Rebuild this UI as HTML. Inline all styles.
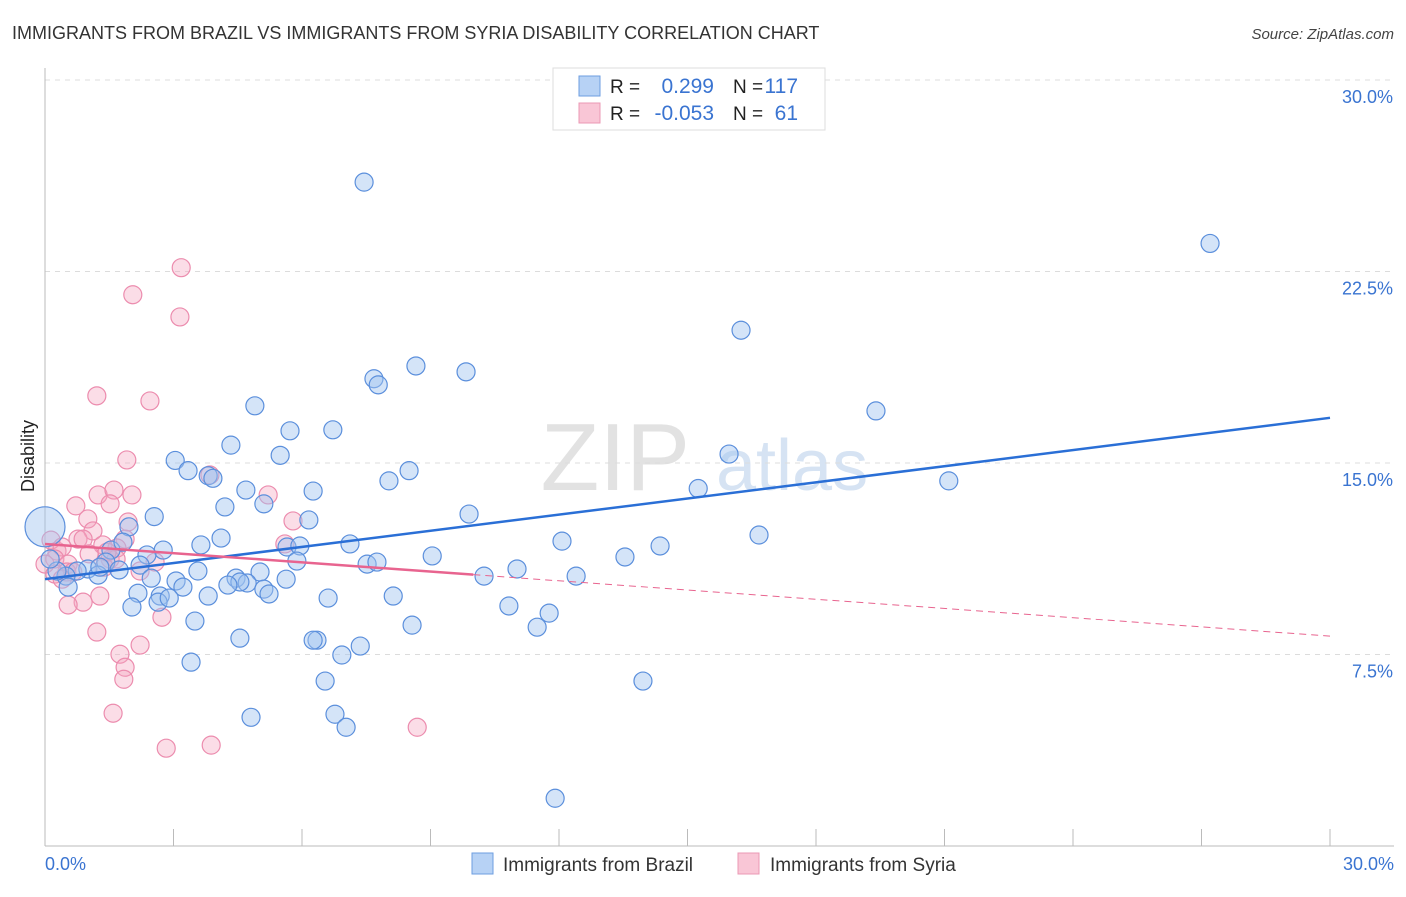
<!DOCTYPE html>
<html><head><meta charset="utf-8"><style>
body{margin:0;background:#fff;font-family:"Liberation Sans",sans-serif}
svg text{font-family:"Liberation Sans",sans-serif}
</style></head><body>
<svg id="chart" width="1406" height="892" viewBox="0 0 1406 892">
<text x="12" y="39" font-size="18" fill="#333">IMMIGRANTS FROM BRAZIL VS IMMIGRANTS FROM SYRIA DISABILITY CORRELATION CHART</text>
<text x="1394" y="39" font-size="15" fill="#444" font-style="italic" text-anchor="end">Source: ZipAtlas.com</text>
<text x="690" y="490" font-size="96" fill="#e2e2e2" font-family="Liberation Serif" text-anchor="end">ZIP</text>
<text x="716" y="490" font-size="72" fill="#d6e3f3">atlas</text>
<g id="grid"></g><g id="axes"></g><g id="pink"></g><g id="blue"></g><g id="lines"></g>
<text transform="translate(34,456) rotate(-90)" font-size="18" fill="#222" text-anchor="middle">Disability</text>
<g>
<rect x="553" y="68" width="272" height="62" fill="#fff" stroke="#ddd"/>
<rect x="579" y="76" width="21" height="20" fill="#b7d2f5" stroke="#6d9ee0"/>
<rect x="579" y="103" width="21" height="20" fill="#f9c6d6" stroke="#eb98b4"/>
<text x="610" y="93" font-size="19" fill="#222">R =</text><text x="714" y="93" font-size="21" fill="#3a74d1" text-anchor="end">0.299</text>
<text x="733" y="93" font-size="19" fill="#222">N =</text><text x="798" y="93" font-size="21" fill="#3a74d1" text-anchor="end">117</text>
<text x="610" y="120" font-size="19" fill="#222">R =</text><text x="714" y="120" font-size="21" fill="#3a74d1" text-anchor="end">-0.053</text>
<text x="733" y="120" font-size="19" fill="#222">N =</text><text x="798" y="120" font-size="21" fill="#3a74d1" text-anchor="end">61</text>
</g>
<g>
<rect x="472" y="853" width="21" height="21" fill="#b7d2f5" stroke="#6d9ee0"/>
<text x="503" y="871" font-size="19" fill="#333">Immigrants from Brazil</text>
<rect x="738" y="853" width="21" height="21" fill="#f9c6d6" stroke="#eb98b4"/>
<text x="770" y="871" font-size="19" fill="#333">Immigrants from Syria</text>
</g>
</svg>
<script>
const yTicks=[7.5,15,22.5,30];
const yTickLabels=["7.5%","15.0%","22.5%","30.0%"];
const xTicks=[0,3,6,9,12,15,18,21,24,27,30];
const xEndLabels=["0.0%","30.0%"];
const brazilX=[7.45,27.2,16.25,8.66,7.68,7.78,9.83,19.4,4.9,5.72,6.72,4.34,5.49,3.04,3.34,3.81,3.92,8.5,8.03,15.97,21.1,15.25,6.26,4.69,5.11,4.2,2.55,9.9,6.16,1.96,16.67,12.07,14.36,13.54,7.12,9.04,5.65,5.95,4.11,3.64,2.76,2.38,1.54,1.82,5.88,7.52,7.75,11.02,10.25,12.4,2.22,1.42,1.0,0.75,0.49,0.28,0.12,1.24,1.73,2.48,3.06,3.57,4.46,5.02,5.63,4.72,4.55,3.22,4.27,5.11,5.23,3.81,2.17,2.69,2.03,2.64,2.9,8.13,6.61,10.83,11.77,11.49,8.57,3.5,4.55,6.35,6.26,6.93,7.36,3.41,6.54,13.96,4.81,6.77,7.03,11.91,0.54,1.28,0];
const brazilY=[26.0,23.6,20.2,18.8,18.3,18.06,18.57,17.04,17.24,16.26,16.3,15.7,15.3,15.1,14.7,14.5,14.4,14.7,14.3,15.35,14.3,14.0,13.9,13.94,13.4,13.28,12.9,13.0,12.77,12.5,12.18,11.94,11.75,11.32,11.83,11.36,11.71,11.75,12.06,11.79,11.59,11.4,11.59,11.9,11.16,11.04,11.12,10.85,10.57,10.57,11.0,11.12,10.85,10.77,10.57,10.77,11.24,10.61,10.81,10.49,10.38,10.77,10.49,10.73,10.45,10.3,10.34,10.14,10.22,10.06,9.87,9.79,9.9,9.79,9.36,9.55,9.71,9.79,9.71,9.4,9.12,8.57,8.65,8.81,8.14,8.06,8.06,7.48,7.83,7.2,6.46,6.46,5.04,5.16,4.65,1.87,10.14,10.92,12.5];
const syriaX=[3.18,2.05,3.15,1.21,2.45,1.91,3.85,5.21,1.24,1.61,2.03,0.72,1.0,1.52,1.94,1.12,1.87,0.77,0.89,1.35,1.68,0.28,0.14,0.4,0.23,0.54,0,0.51,0.65,1.52,2.57,2.22,5.79,5.6,1.28,0.89,0.54,2.73,1.21,2.22,1.75,1.87,1.84,1.59,2.83,3.88,8.69,1.66,1.38,0.23,0.4,1.45,1.03];
const syriaY=[22.65,21.59,20.72,17.63,17.43,15.12,14.53,13.75,13.75,13.94,13.75,13.32,12.81,13.4,12.69,12.34,12.02,12.02,12.02,11.79,11.67,11.55,11.98,11.71,11.24,11.04,11.04,10.73,10.73,11.24,11.12,10.77,12.73,11.83,9.79,9.55,9.44,8.96,8.38,7.87,7.51,7.0,6.53,5.2,3.83,3.95,4.65,11.24,10.92,10.65,10.45,11.51,11.44];
const brazilFit=[10.45,16.77];
const syriaFit=[11.83,8.22];
const syriaSolidEnd=10.0;
const X0=45,X1=1330,Y0=846,Y30=80;
const xs=v=>X0+(v/30)*(X1-X0);
const ys=v=>Y0-(v/30)*(Y0-Y30);
const NS="http://www.w3.org/2000/svg";
function mk(tag,parent,attrs){const e=document.createElementNS(NS,tag);for(const k in attrs)e.setAttribute(k,attrs[k]);document.getElementById(parent).appendChild(e);return e;}
yTicks.forEach((t,i)=>{
 const l=mk('line','grid',{x1:X0,x2:1394,y1:ys(t),y2:ys(t),stroke:'#dcdcdc','stroke-dasharray':'5,5'});
 
 
 const tx=mk('text','grid',{x:1393,y:ys(t)+23,'font-size':18,fill:'#3a74d1','text-anchor':'end'});
 tx.textContent=yTickLabels[i];
 
 
});
const ax=mk('line','axes',{x1:X0,x2:X0,y1:68,y2:Y0,stroke:'#bbb'});


const bx=mk('line','axes',{x1:X0,x2:1394,y1:Y0,y2:Y0,stroke:'#bbb'});


xTicks.forEach(t=>{
 const l=mk('line','axes',{x1:xs(t),x2:xs(t),y1:829,y2:Y0,stroke:'#bbb'});
 
 
});
const xl0=mk('text','axes',{x:45,y:870,'font-size':18,fill:'#3a74d1'});xl0.textContent=xEndLabels[0];


const xl1=mk('text','axes',{x:1394,y:870,'font-size':18,fill:'#3a74d1','text-anchor':'end'});xl1.textContent=xEndLabels[1];


syriaX.forEach((x,i)=>{
 const c=mk('circle','pink',{cx:xs(x),cy:ys(syriaY[i]),r:9,fill:'rgba(244,165,192,0.38)',stroke:'#ec8cae','stroke-width':1.2});
 
 
});
brazilX.forEach((x,i)=>{
 const big=i===brazilX.length-1;
 const c=mk('circle','blue',{cx:xs(x),cy:ys(brazilY[i]),r:big?20:9,fill:'rgba(160,196,240,0.45)',stroke:'#5b8fdc','stroke-width':1.2});
 
 
});
const bl=mk('line','lines',{x1:xs(0),y1:ys(brazilFit[0]),x2:xs(30),y2:ys(brazilFit[1]),stroke:'#2a6fd6','stroke-width':2.5});


const sAt=x=>syriaFit[0]+(syriaFit[1]-syriaFit[0])*x/30;
const pl=mk('line','lines',{x1:xs(0),y1:ys(sAt(0)),x2:xs(syriaSolidEnd),y2:ys(sAt(syriaSolidEnd)),stroke:'#e8648f','stroke-width':2.5});


const pd=mk('line','lines',{x1:xs(syriaSolidEnd),y1:ys(sAt(syriaSolidEnd)),x2:xs(30),y2:ys(sAt(30)),stroke:'#e8648f','stroke-width':1,'stroke-dasharray':'7,5'});


</script>
</body></html>
